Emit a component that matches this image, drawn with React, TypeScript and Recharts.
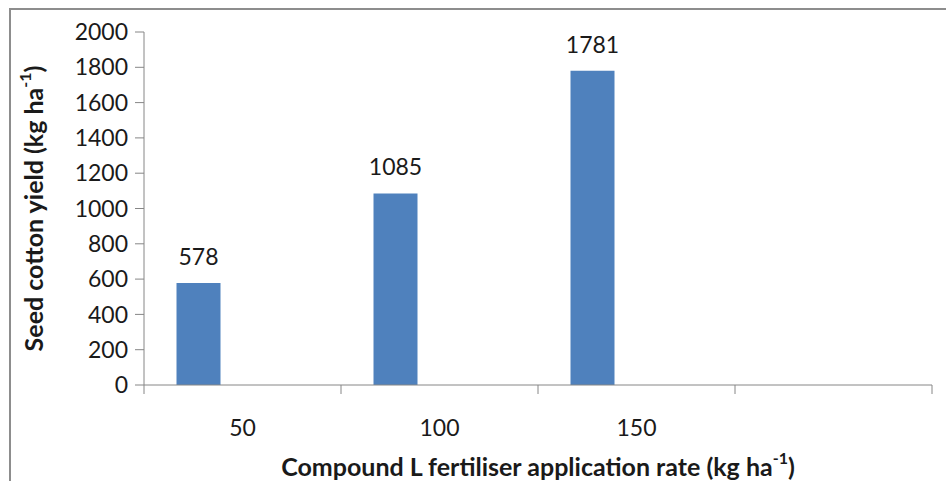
import React from 'react';
import { BarChart, Bar, XAxis, YAxis, LabelList, Label } from 'recharts';

const categories = ['50', '100', '150', ''];
const yieldValues: (number | null)[] = [578, 1085, 1781, null];
const series2Values: (number | null)[] = [null, null, null, null];
const series3Values: (number | null)[] = [null, null, null, null];
const yTicks = [0, 200, 400, 600, 800, 1000, 1200, 1400, 1600, 1800, 2000];

const data = categories.map((c, i) => ({
  rate: c,
  yield: yieldValues[i],
  s2: series2Values[i],
  s3: series3Values[i],
}));

const W = 946;
const H = 481;
const MARGIN = { top: 32, right: 14, bottom: 0, left: 0 };
const YAXIS_W = 144;
const XAXIS_H = 96;
const BAND = (W - MARGIN.left - MARGIN.right - YAXIS_W) / categories.length;
const AXIS = '#868686';
const FONT = 'Lato, "Open Sans", sans-serif';
const TEXT = '#1a1a1a';
const BAR = '#4F81BD';

const XTick = (props: any) => {
  const { x, y, payload, index } = props;
  const half = BAND / 2;
  const isLast = index === categories.length - 1;
  return (
    <g>
      <line x1={x - half} x2={x - half} y1={y} y2={y + 9} stroke={AXIS} strokeWidth={1} />
      {isLast && <line x1={x + half} x2={x + half} y1={y} y2={y + 9} stroke={AXIS} strokeWidth={1} />}
      <text x={x} y={y + 43} dy="0.355em" textAnchor="middle" fontFamily={FONT} fontSize={23} fill={TEXT}>
        {payload.value}
      </text>
    </g>
  );
};

const YTitle = (props: any) => {
  const vb = props.viewBox || {};
  const cx = 33;
  const cy = (vb.y ?? 32) + (vb.height ?? 353) / 2;
  return (
    <text
      x={cx}
      y={cy}
      transform={`rotate(-90, ${cx}, ${cy})`}
      textAnchor="middle"
      dominantBaseline="central"
      fontFamily={FONT}
      fontWeight="bold"
      fontSize={25}
      fill={TEXT}
    >
      Seed cotton yield (kg ha
      <tspan dy={-9} fontSize={16}>-1</tspan>
      <tspan dy={9}>)</tspan>
    </text>
  );
};

const XTitle = (props: any) => {
  const vb = props.viewBox || {};
  const cx = (vb.x ?? 144) + (vb.width ?? 788) / 2;
  const cy = 466;
  return (
    <text
      x={cx}
      y={cy}
      textAnchor="middle"
      dominantBaseline="central"
      fontFamily={FONT}
      fontWeight="bold"
      fontSize={25}
      fill={TEXT}
    >
      Compound L fertiliser application rate (kg ha
      <tspan dy={-9} fontSize={16}>-1</tspan>
      <tspan dy={9}>)</tspan>
    </text>
  );
};

export default function App() {
  return (
    <div style={{ position: 'absolute', left: 0, top: 0, width: W, height: H, background: '#fff' }}>
      <div
        style={{
          position: 'absolute',
          left: 9,
          top: 8,
          right: 0,
          bottom: 0,
          borderTop: '2px solid #8d8d8d',
          borderLeft: '2px solid #8d8d8d',
        }}
      />
      <div style={{ position: 'absolute', left: 0, top: 0 }}>
        <BarChart
          width={W}
          height={H}
          data={data}
          margin={MARGIN}
          barCategoryGap="16.5%"
          barGap={0}
        >
          <XAxis
            dataKey="rate"
            height={XAXIS_H}
            interval={0}
            tickLine={false}
            tickSize={0}
            tickMargin={0}
            axisLine={{ stroke: AXIS, strokeWidth: 1 }}
            tick={<XTick />}
          >
            <Label content={<XTitle />} />
          </XAxis>
          <YAxis
            width={YAXIS_W}
            domain={[0, 2000]}
            ticks={yTicks}
            interval={0}
            tickSize={9}
            tickMargin={7}
            axisLine={{ stroke: AXIS, strokeWidth: 1 }}
            tickLine={{ stroke: AXIS, strokeWidth: 1 }}
            tick={{ fontFamily: FONT, fontSize: 23, fill: TEXT }}
          >
            <Label content={<YTitle />} />
          </YAxis>
          <Bar dataKey="yield" fill={BAR} isAnimationActive={false}>
            <LabelList
              dataKey="yield"
              position="top"
              offset={18}
              style={{ fontFamily: FONT, fontSize: 23, fill: TEXT }}
            />
          </Bar>
          <Bar dataKey="s2" fill="#C0504D" isAnimationActive={false} />
          <Bar dataKey="s3" fill="#9BBB59" isAnimationActive={false} />
        </BarChart>
      </div>
    </div>
  );
}
